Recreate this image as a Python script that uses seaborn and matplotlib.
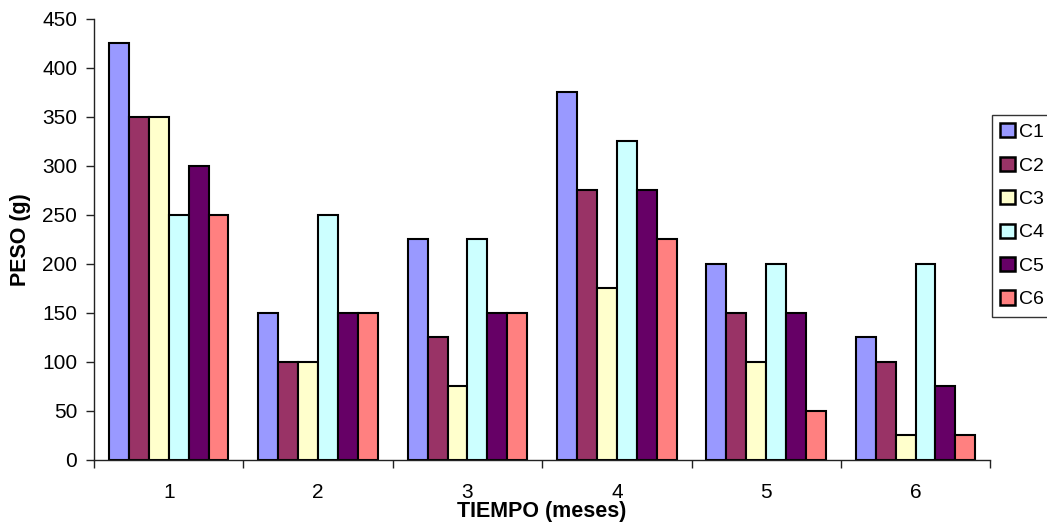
import matplotlib
matplotlib.use("Agg")
import matplotlib.pyplot as plt
import seaborn as sns
import pandas as pd
import numpy as np

# Weight per container over time
months = ["1", "2", "3", "4", "5", "6"]
series = ["C1", "C2", "C3", "C4", "C5", "C6"]
c1 = [425, 150, 225, 375, 200, 125]
c2 = [350, 100, 125, 275, 150, 100]
c3 = [350, 100, 75, 175, 100, 25]
c4 = [250, 250, 225, 325, 200, 200]
c5 = [300, 150, 150, 275, 150, 75]
c6 = [250, 150, 150, 225, 50, 25]
colors = ["#9999FF", "#993366", "#FFFFCC", "#CCFFFF", "#660066", "#FF8080"]

rows = []
for name, vals in zip(series, [c1, c2, c3, c4, c5, c6]):
    for m, v in zip(months, vals):
        rows.append({"TIEMPO": m, "PESO": v, "Serie": name})
df = pd.DataFrame(rows)

sns.set_theme(style="white")
plt.rcParams["font.family"] = ["Liberation Sans", "DejaVu Sans"]
plt.rcParams.update({"text.color": "black", "axes.labelcolor": "black",
                     "xtick.color": "black", "ytick.color": "black"})

fig = plt.figure(figsize=(10.47, 5.23), dpi=100)
ax = fig.add_axes([0.0898, 0.1205, 0.856, 0.8432])

sns.barplot(data=df, x="TIEMPO", y="PESO", hue="Serie", order=months,
            hue_order=series, palette=colors, width=0.8, gap=0,
            edgecolor="black", linewidth=1.5, saturation=1, ax=ax,
            legend=False)

ax.set_ylim(0, 450)
ax.set_yticks(np.arange(0, 451, 50))
ax.set_xlim(-0.5, len(months) - 0.5)

for s in ["top", "right"]:
    ax.spines[s].set_visible(False)
for s in ["left", "bottom"]:
    ax.spines[s].set_color("#222222")
    ax.spines[s].set_linewidth(1.0)

ax.tick_params(axis="y", which="major", direction="out", length=6, width=1,
               color="#222222", labelsize=15, pad=6, left=True)
ax.tick_params(axis="x", which="major", length=0, labelsize=15, pad=16.5)
ax.set_xticks(np.arange(-0.5, len(months)), minor=True)
ax.tick_params(axis="x", which="minor", direction="out", length=6, width=1,
               color="#222222", bottom=True)

ax.set_xlabel("TIEMPO (meses)", fontsize=15.5, fontweight="bold", labelpad=-1)
ax.set_ylabel("PESO (g)", fontsize=15.5, fontweight="bold", labelpad=8)

handles = [plt.Rectangle((0, 0), 1, 1, facecolor=c, edgecolor="black", linewidth=1.8)
           for c in colors]
leg = fig.legend(handles, series, loc="upper left",
                 bbox_to_anchor=(992 / 1047, 1 - 115 / 523),
                 frameon=True, fancybox=False, shadow=False, fontsize=14,
                 handlelength=0.75, handleheight=0.75, handletextpad=0.2,
                 labelspacing=0.8, borderpad=0.42, borderaxespad=0)
leg.get_frame().set_edgecolor("black")
leg.get_frame().set_linewidth(1.0)

fig.savefig("out.png", dpi=100)
